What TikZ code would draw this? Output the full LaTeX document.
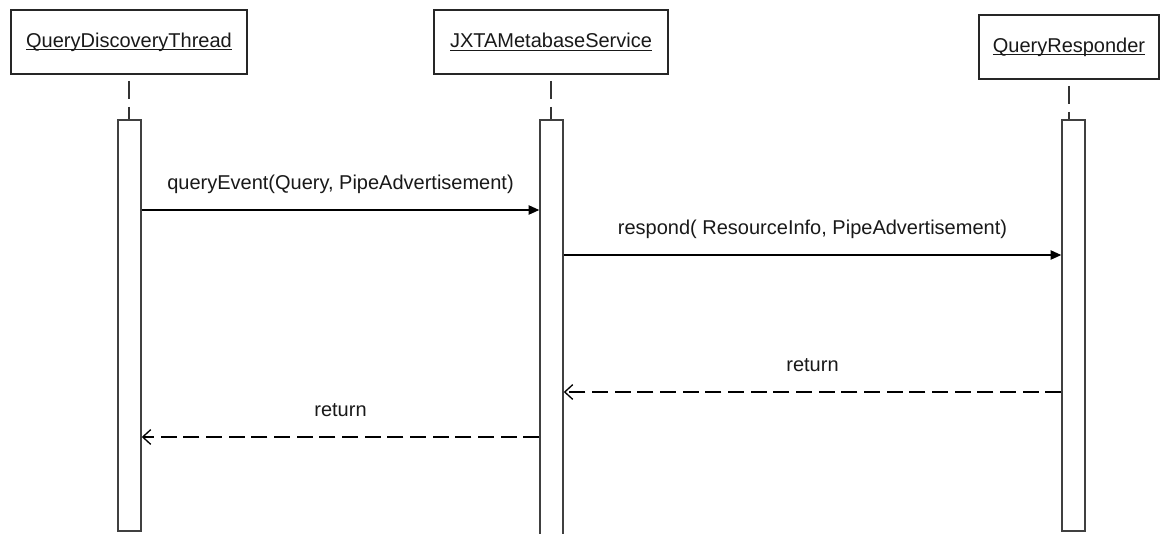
\documentclass[tikz,border=0pt]{standalone}
\usepackage{fontspec}
\setmainfont{Liberation Sans}
\usetikzlibrary{arrows.meta}

% object name with a close underline
\newcommand{\objname}[1]{\setbox0\hbox{#1}\rlap{\rule[-2.4pt]{\wd0}{0.8pt}}\box0}

\begin{document}
\begin{tikzpicture}[
  x=0.75pt, y=-0.75pt,
  font=\fontsize{15}{18}\selectfont,
  object/.style={draw=black!85, line width=1.2pt, minimum height=48pt,
    inner sep=0pt, text=black!90},
  activation/.style={draw=black!75, fill=white, line width=1.1pt,
    minimum width=17.25pt, inner sep=0pt},
  lifeline/.style={draw=black!80, line width=1.1pt,
    dash pattern=on 0pt off 4.5pt on 13.5pt off 6pt on 20pt},
  call/.style={-{Triangle[length=8pt,width=7pt]}, line width=1pt},
  reply/.style={-{Straight Barb[length=6pt,width=11pt]}, line width=1pt,
    dash pattern=on 12pt off 5pt},
  msg/.style={anchor=base, yshift=15.75pt, inner sep=0pt, text=black!90}
]

\useasboundingbox[fill=white] (0,0) rectangle (1160,533);

% objects
\node[object, minimum width=177pt]   (qdt) at (129,42)  {\objname{QueryDiscoveryThread}};
\node[object, minimum width=175.5pt] (jms) at (551,42)  {\objname{JXTAMetabaseService}};
\node[object, minimum width=135pt]   (qr)  at (1069,47) {\objname{QueryResponder}};

% activation bars
\node[activation, minimum height=308.25pt] (qdtact) at (129.5,325.5)  {};
\node[activation, minimum height=315pt]    (jmsact) at (551.5,330)    {};
\node[activation, minimum height=308.25pt] (qract)  at (1073.5,325.5) {};

% lifelines down to the bars
\draw[lifeline] (qdt.south) -- (qdt.south |- qdtact.north);
\draw[lifeline] (jms.south) -- (jms.south |- jmsact.north);
\draw[lifeline] (qr.south)  -- (qr.south |- qract.north);

% message rows
\coordinate (m1) at (0,210);
\coordinate (m2) at (0,255);
\coordinate (m3) at (0,392);
\coordinate (m4) at (0,437);

\draw[call] (qdtact.east |- m1) -- (jmsact.west |- m1)
  node[msg, midway] {queryEvent(Query, PipeAdvertisement)};
\draw[call] (jmsact.east |- m2) -- (qract.west |- m2)
  node[msg, midway] {respond( ResourceInfo, PipeAdvertisement)};
\draw[reply] (qract.west |- m3) -- (jmsact.east |- m3)
  node[msg, midway] {return};
\draw[reply] (jmsact.west |- m4) -- (qdtact.east |- m4)
  node[msg, midway] {return};

\end{tikzpicture}
\end{document}
